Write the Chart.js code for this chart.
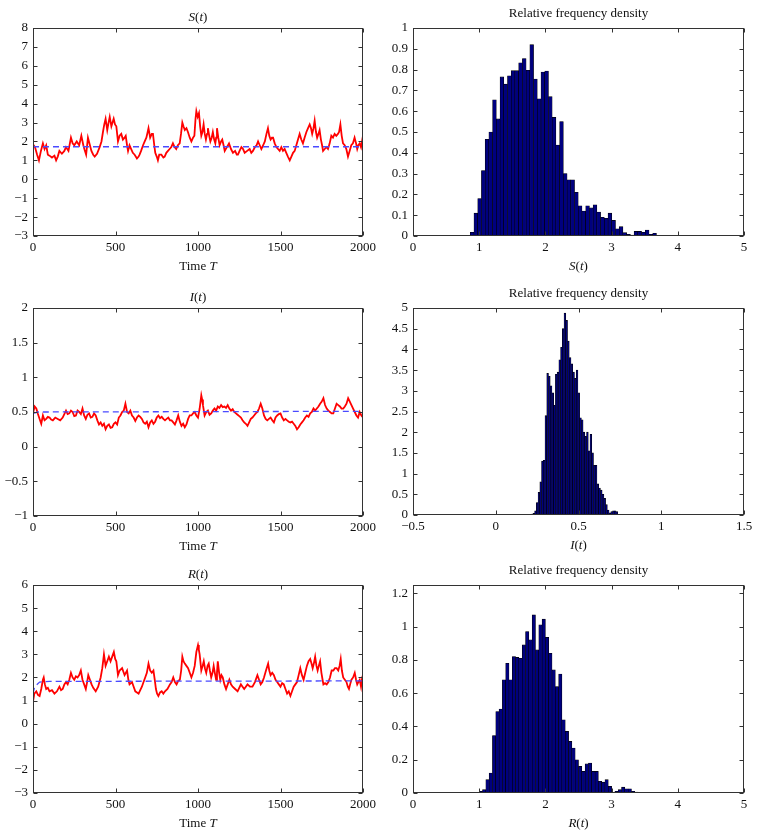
<!DOCTYPE html>
<html><head><meta charset="utf-8">
<script src="https://cdn.jsdelivr.net/npm/chart.js@4.4.0/dist/chart.umd.min.js"></script>
<style>
html,body{margin:0;padding:0;background:#fff;}
#wrap{position:relative;width:760px;height:838px;overflow:hidden;}
canvas{position:absolute;}
</style></head>
<body><div id="wrap">
<canvas id="c1" width="380" height="280" style="left:0;top:0"></canvas>
<canvas id="c2" width="380" height="280" style="left:380px;top:0"></canvas>
<canvas id="c3" width="380" height="280" style="left:0;top:280px"></canvas>
<canvas id="c4" width="380" height="280" style="left:380px;top:280px"></canvas>
<canvas id="c5" width="380" height="278" style="left:0;top:560px"></canvas>
<canvas id="c6" width="380" height="278" style="left:380px;top:560px"></canvas>
</div>
<script>
// ---------- DATA ----------
const timeTicks = [0, 500, 1000, 1500, 2000];
const sYTicks = [-3,-2,-1,0,1,2,3,4,5,6,7,8];
const iYTicks = [-1,-0.5,0,0.5,1,1.5,2];
const rYTicks = [-3,-2,-1,0,1,2,3,4,5,6];
const sHistXTicks = [0,1,2,3,4,5];
const iHistXTicks = [-0.5,0,0.5,1,1.5];
const rHistXTicks = [0,1,2,3,4,5];
const sHistYTicks = [0,0.1,0.2,0.3,0.4,0.5,0.6,0.7,0.8,0.9,1];
const iHistYTicks = [0,0.5,1,1.5,2,2.5,3,3.5,4,4.5,5];
const rHistYTicks = [0,0.2,0.4,0.6,0.8,1,1.2];

// S(t) sample path [time, value]
const sSeries = [[0,1.85],[12,1.7],[25,1.3],[36,1.0],[48,1.5],[60,1.9],[70,1.6],[80,1.8],[90,1.3],[100,1.25],[115,1.15],[130,1.25],[140,1.0],[150,1.2],[160,1.5],[175,1.35],[190,1.5],[200,1.7],[215,1.5],[230,2.2],[240,1.9],[250,1.8],[265,2.0],[280,1.8],[293,2.3],[305,1.8],[313,1.55],[322,1.3],[333,2.2],[345,1.8],[354,1.5],[365,1.3],[374,1.2],[388,1.35],[404,1.7],[415,2.0],[424,2.5],[432,2.9],[440,3.2],[450,2.6],[458,3.0],[465,3.3],[475,2.8],[482,3.0],[489,3.2],[497,2.9],[505,2.8],[515,2.0],[525,2.3],[535,2.4],[545,2.1],[555,2.2],[562,2.3],[570,1.8],[576,1.5],[585,1.8],[595,1.6],[605,1.4],[616,1.3],[630,1.1],[640,1.2],[646,1.3],[655,1.5],[667,1.8],[677,2.0],[687,2.2],[695,2.5],[700,2.7],[710,2.2],[720,2.4],[727,2.4],[735,1.8],[741,1.4],[750,1.2],[757,1.0],[765,1.3],[778,1.3],[790,1.15],[798,1.2],[808,1.4],[818,1.5],[828,1.6],[838,1.7],[848,1.9],[858,1.7],[868,1.6],[878,1.8],[889,1.9],[897,2.4],[905,3.0],[912,2.8],[920,2.6],[930,2.7],[939,2.5],[950,2.2],[960,2.0],[970,2.2],[978,2.3],[985,3.2],[990,3.6],[998,3.3],[1006,3.5],[1013,2.8],[1020,2.3],[1027,2.5],[1034,2.9],[1041,2.4],[1048,2.1],[1055,2.4],[1060,2.7],[1068,2.3],[1075,2.0],[1083,2.2],[1090,2.5],[1098,2.1],[1105,1.9],[1110,2.2],[1115,2.7],[1123,2.2],[1131,1.8],[1140,2.0],[1147,2.1],[1155,1.8],[1162,1.5],[1175,1.7],[1188,1.9],[1200,1.6],[1212,1.4],[1225,1.5],[1235,1.3],[1242,1.3],[1252,1.5],[1263,1.7],[1273,1.6],[1283,1.4],[1298,1.5],[1313,1.6],[1323,1.4],[1333,1.5],[1345,1.7],[1355,1.8],[1364,2.0],[1374,1.8],[1384,1.6],[1395,1.8],[1405,2.0],[1415,2.4],[1424,2.7],[1432,2.3],[1440,2.1],[1448,2.2],[1455,2.2],[1465,1.9],[1475,1.7],[1485,1.6],[1495,1.5],[1505,1.7],[1515,1.5],[1525,1.6],[1535,1.4],[1545,1.2],[1556,1.0],[1566,1.2],[1576,1.4],[1586,1.5],[1596,1.8],[1606,2.1],[1616,2.4],[1626,2.1],[1636,1.9],[1646,2.2],[1657,2.5],[1667,2.7],[1677,2.9],[1685,2.7],[1692,2.4],[1700,2.7],[1707,3.1],[1715,2.5],[1722,2.2],[1730,2.4],[1737,2.6],[1745,2.1],[1752,1.8],[1758,1.5],[1768,1.6],[1778,1.7],[1788,1.6],[1798,1.9],[1808,2.3],[1818,2.2],[1828,2.4],[1838,2.3],[1848,2.4],[1855,2.5],[1863,2.9],[1871,2.3],[1879,1.9],[1889,1.8],[1899,1.6],[1909,1.2],[1919,1.5],[1929,1.8],[1939,1.9],[1949,2.2],[1958,1.9],[1965,1.6],[1972,1.8],[1980,1.9],[1988,1.7],[1996,2.1],[2000,1.8]];
const sMean = [[0,1.72],[2000,1.72]];

// I(t) sample path
const iSeries = [[0,0.48],[10,0.58],[20,0.55],[30,0.47],[40,0.40],[50,0.33],[60,0.45],[70,0.38],[80,0.40],[90,0.43],[100,0.42],[110,0.39],[120,0.38],[135,0.42],[150,0.40],[165,0.38],[180,0.42],[200,0.52],[210,0.47],[220,0.48],[230,0.52],[240,0.50],[250,0.44],[260,0.45],[270,0.52],[280,0.50],[290,0.47],[300,0.55],[310,0.45],[320,0.40],[330,0.46],[340,0.48],[350,0.42],[360,0.43],[370,0.48],[380,0.45],[390,0.38],[400,0.32],[410,0.35],[420,0.30],[430,0.33],[440,0.25],[450,0.30],[460,0.32],[470,0.27],[480,0.28],[490,0.33],[500,0.35],[510,0.32],[520,0.42],[530,0.45],[540,0.50],[550,0.52],[560,0.62],[570,0.50],[580,0.48],[590,0.52],[600,0.45],[610,0.42],[620,0.37],[630,0.42],[640,0.45],[650,0.43],[660,0.40],[670,0.35],[680,0.33],[690,0.36],[700,0.28],[710,0.35],[720,0.38],[730,0.33],[740,0.36],[750,0.42],[760,0.45],[770,0.41],[780,0.43],[790,0.40],[800,0.38],[810,0.40],[820,0.42],[830,0.38],[840,0.38],[850,0.35],[860,0.32],[870,0.38],[880,0.45],[890,0.36],[900,0.30],[910,0.33],[920,0.28],[930,0.32],[940,0.40],[950,0.45],[960,0.45],[970,0.48],[980,0.50],[990,0.45],[1000,0.42],[1010,0.55],[1020,0.74],[1025,0.68],[1030,0.60],[1040,0.45],[1050,0.50],[1060,0.52],[1070,0.46],[1080,0.48],[1090,0.52],[1100,0.55],[1110,0.52],[1120,0.58],[1130,0.56],[1140,0.60],[1150,0.57],[1160,0.58],[1170,0.56],[1180,0.60],[1190,0.55],[1200,0.52],[1210,0.54],[1220,0.50],[1230,0.48],[1240,0.46],[1250,0.44],[1260,0.42],[1270,0.38],[1280,0.35],[1290,0.33],[1300,0.30],[1310,0.35],[1320,0.40],[1330,0.42],[1340,0.45],[1350,0.48],[1360,0.50],[1370,0.55],[1380,0.62],[1390,0.55],[1400,0.45],[1410,0.40],[1420,0.38],[1430,0.40],[1440,0.42],[1450,0.38],[1460,0.35],[1470,0.42],[1480,0.45],[1490,0.47],[1500,0.48],[1510,0.42],[1520,0.38],[1530,0.40],[1540,0.38],[1550,0.36],[1560,0.35],[1570,0.36],[1580,0.33],[1590,0.30],[1600,0.25],[1610,0.28],[1620,0.32],[1630,0.35],[1640,0.38],[1650,0.42],[1660,0.45],[1670,0.43],[1680,0.48],[1690,0.50],[1700,0.55],[1710,0.52],[1720,0.55],[1730,0.58],[1740,0.62],[1750,0.65],[1760,0.70],[1770,0.60],[1780,0.55],[1790,0.52],[1800,0.50],[1810,0.48],[1820,0.48],[1830,0.55],[1840,0.62],[1850,0.60],[1860,0.58],[1870,0.55],[1880,0.55],[1890,0.58],[1900,0.62],[1910,0.70],[1920,0.65],[1930,0.60],[1940,0.55],[1950,0.50],[1960,0.45],[1970,0.42],[1980,0.50],[1990,0.45],[2000,0.42]];
const iMean = [[0,0.48],[30,0.50],[2000,0.51]];

// R(t) sample path
const rSeries = [[0,0.95],[8,1.3],[20,1.4],[30,1.25],[40,1.2],[50,1.5],[60,1.9],[65,2.0],[72,1.7],[80,1.5],[90,1.55],[100,1.4],[115,1.45],[130,1.3],[145,1.4],[160,1.6],[170,1.45],[180,1.5],[190,1.7],[200,1.8],[210,1.7],[220,1.9],[230,2.2],[240,2.0],[250,1.9],[260,2.05],[270,2.0],[280,2.1],[290,2.3],[300,1.9],[310,1.7],[320,1.5],[328,1.8],[335,2.1],[345,1.9],[355,1.7],[365,1.55],[380,1.4],[395,1.6],[410,2.0],[420,2.4],[430,3.0],[440,2.5],[450,2.7],[460,2.9],[470,2.7],[480,2.9],[490,3.1],[498,2.8],[505,2.7],[515,2.1],[525,2.3],[540,2.4],[550,2.2],[555,2.1],[570,2.3],[578,1.9],[585,1.7],[600,1.8],[610,1.6],[620,1.4],[630,1.35],[640,1.3],[650,1.45],[660,1.6],[670,1.8],[680,2.0],[690,2.2],[700,2.6],[710,2.3],[720,2.2],[730,2.3],[738,1.9],[745,1.5],[752,1.3],[760,1.2],[770,1.35],[780,1.4],[790,1.3],[800,1.4],[815,1.5],[830,1.7],[840,1.8],[850,2.0],[860,1.8],[870,1.7],[880,1.85],[890,1.9],[898,2.3],[905,2.9],[912,2.7],[920,2.6],[930,2.5],[940,2.4],[950,2.2],[960,2.0],[970,2.2],[980,2.5],[990,3.1],[1000,3.4],[1005,3.2],[1010,3.0],[1020,2.3],[1028,2.5],[1035,2.7],[1042,2.4],[1050,2.2],[1058,2.5],[1065,2.6],[1072,2.3],[1080,2.0],[1088,2.2],[1095,2.5],[1102,2.2],[1110,1.9],[1115,2.2],[1120,2.7],[1128,2.2],[1135,1.9],[1142,2.1],[1150,2.0],[1160,1.7],[1170,1.5],[1180,1.7],[1190,1.9],[1200,1.7],[1210,1.6],[1225,1.5],[1240,1.4],[1250,1.55],[1260,1.7],[1270,1.6],[1280,1.5],[1290,1.6],[1300,1.7],[1315,1.6],[1330,1.6],[1345,1.8],[1360,2.1],[1370,1.9],[1380,1.7],[1390,1.8],[1400,2.0],[1412,2.3],[1425,2.6],[1432,2.3],[1440,2.1],[1450,2.2],[1460,2.1],[1470,1.9],[1480,1.8],[1490,1.7],[1500,1.6],[1510,1.75],[1520,1.7],[1530,1.5],[1540,1.3],[1550,1.4],[1560,1.2],[1570,1.4],[1580,1.6],[1590,1.7],[1600,1.8],[1610,2.1],[1620,2.4],[1630,2.1],[1640,1.9],[1650,2.2],[1660,2.5],[1670,2.7],[1680,2.8],[1688,2.6],[1695,2.4],[1702,2.6],[1710,2.9],[1718,2.5],[1725,2.3],[1732,2.5],[1740,2.7],[1748,2.2],[1755,1.9],[1760,1.7],[1770,1.75],[1780,1.7],[1790,1.8],[1800,2.0],[1810,2.3],[1820,2.3],[1830,2.4],[1840,2.4],[1850,2.3],[1858,2.5],[1865,2.8],[1872,2.3],[1880,2.0],[1890,1.9],[1900,1.8],[1908,1.6],[1915,1.5],[1922,1.7],[1930,1.9],[1940,2.0],[1950,2.2],[1958,1.9],[1965,1.7],[1972,1.8],[1980,1.9],[1988,1.6],[1995,2.0],[2000,2.1]];
const rMean = [[0,1.3],[10,1.6],[40,1.8],[100,1.83],[2000,1.85]];

// Histograms: relative frequency density per bin
const sBinStart = 0.865, sBinWidth = 0.05625;
const sDensity = [0.018,0.11,0.18,0.315,0.465,0.50,0.655,0.563,0.765,0.73,0.77,0.795,0.795,0.833,0.853,0.797,0.92,0.755,0.66,0.788,0.793,0.67,0.57,0.437,0.55,0.30,0.27,0.27,0.21,0.145,0.12,0.145,0.135,0.15,0.115,0.09,0.085,0.11,0.075,0.035,0.045,0.016,0.008,0.005,0.022,0.022,0.018,0.029,0.008,0.013];
const iBinStart = 0.214, iBinWidth = 0.01046;
const iDensity = [0.02,0.04,0.1,0.3,0.55,0.8,1.3,1.32,2.4,3.42,3.35,3.12,2.95,2.65,3.4,3.45,3.75,4.05,4.5,4.88,4.7,4.2,3.8,3.65,3.45,3.3,3.5,2.95,2.35,2.3,2.0,1.9,2.0,1.55,1.95,1.5,1.2,1.2,0.75,0.65,0.6,0.5,0.4,0.25,0.12,0.05,0.08,0.1,0.1,0.08];
const rBinStart = 1.0, rBinWidth = 0.05;
const rDensity = [0.01,0.02,0.08,0.12,0.345,0.49,0.505,0.68,0.78,0.68,0.82,0.815,0.81,0.89,0.97,0.92,1.07,0.86,1.01,1.045,0.935,0.84,0.74,0.64,0.715,0.44,0.37,0.31,0.27,0.2,0.16,0.13,0.175,0.18,0.13,0.13,0.07,0.065,0.08,0.04,0.0,0.01,0.02,0.035,0.025,0.025,0.01,0.005];

// ---------- RENDERING ----------
const FONT = '"Liberation Serif", "Times New Roman", serif';
const fmt = v => String(Number(v.toFixed(3))).replace('-', '\u2212');

const framePlugin = {
  id: 'frame',
  afterDraw(chart, args, opts) {
    const {ctx, chartArea: a} = chart;
    const x = chart.scales.x, y = chart.scales.y;
    ctx.save();
    ctx.strokeStyle = '#333';
    ctx.lineWidth = 1;
    const L = Math.round(a.left) + 0.5, R = Math.round(a.right) - 0.5;
    const T = Math.round(a.top) + 0.5, B = Math.round(a.bottom) - 0.5;
    ctx.strokeRect(L, T, R - L, B - T);
    const tl = 4;
    ctx.beginPath();
    x.ticks.forEach(t => {
      const px = Math.round(x.getPixelForValue(t.value)) + 0.5;
      ctx.moveTo(px, B); ctx.lineTo(px, B - tl);
      ctx.moveTo(px, T); ctx.lineTo(px, T + tl);
    });
    y.ticks.forEach(t => {
      const py = Math.round(y.getPixelForValue(t.value)) + 0.5;
      ctx.moveTo(L, py); ctx.lineTo(L + tl, py);
      ctx.moveTo(R, py); ctx.lineTo(R - tl, py);
    });
    ctx.stroke();
    // rich text labels
    const cx = (a.left + a.right) / 2;
    const drawRich = (segs, cy) => {
      ctx.fillStyle = '#111';
      ctx.textBaseline = 'middle';
      ctx.textAlign = 'left';
      let w = 0;
      segs.forEach(s => { ctx.font = (s[1] ? 'italic ' : '') + '13px ' + FONT; w += ctx.measureText(s[0]).width; });
      let xx = cx - w / 2;
      segs.forEach(s => { ctx.font = (s[1] ? 'italic ' : '') + '13px ' + FONT; ctx.fillText(s[0], xx, cy); xx += ctx.measureText(s[0]).width; });
    };
    if (opts.top) drawRich(opts.top, a.top - opts.topOff);
    if (opts.bottom) drawRich(opts.bottom, a.bottom + opts.bottomOff);
    ctx.restore();
  }
};

function axis(min, max, ticks, fitW, fitH) {
  return {
    type: 'linear', min, max, offset: false,
    grid: {display: false, drawTicks: false},
    border: {display: false},
    afterBuildTicks: s => { s.ticks = ticks.map(v => ({value: v})); },
    afterFit: s => { if (fitW !== undefined) s.width = fitW; if (fitH !== undefined) s.height = fitH; },
    ticks: {
      autoSkip: false, maxRotation: 0, color: '#111',
      padding: fitW !== undefined ? 5 : 4,
      font: {family: FONT, size: 13},
      callback: v => fmt(v)
    }
  };
}

function tsChart(id, series, mean, yMin, yMax, yTicks, topPad, xH, title) {
  new Chart(document.getElementById(id), {
    type: 'line',
    data: {datasets: [
      {data: mean.map(p => ({x: p[0], y: p[1]})), borderColor: '#4a4aff', borderWidth: 1.3, borderDash: [6, 4], pointRadius: 0, tension: 0, fill: false},
      {data: series.map(p => ({x: p[0], y: p[1]})), borderColor: '#ff0000', borderWidth: 1.8, pointRadius: 0, tension: 0, fill: false}
    ]},
    options: {
      responsive: false, animation: false, devicePixelRatio: 1,
      layout: {padding: {left: 0, right: 17, top: topPad, bottom: 0}},
      plugins: {legend: {display: false}, tooltip: {enabled: false},
        frame: {top: title, topOff: 10, bottom: [['Time ', false], ['T', true]], bottomOff: 31}},
      scales: {x: axis(0, 2000, timeTicks, undefined, xH), y: axis(yMin, yMax, yTicks, 33, undefined)}
    },
    plugins: [framePlugin]
  });
}

function histChart(id, start, width, dens, xMin, xMax, xTicks, yMax, yTicks, topPad, xH, label) {
  new Chart(document.getElementById(id), {
    type: 'bar',
    data: {datasets: [{
      data: dens.map((v, k) => ({x: start + width * (k + 0.5), y: v})),
      backgroundColor: '#00007f', borderColor: '#000', borderWidth: 0.6,
      barPercentage: 1, categoryPercentage: 1
    }]},
    options: {
      responsive: false, animation: false, devicePixelRatio: 1,
      layout: {padding: {left: 0, right: 16, top: topPad, bottom: 0}},
      plugins: {legend: {display: false}, tooltip: {enabled: false},
        frame: {top: [['Relative frequency density', false]], topOff: 14, bottom: label, bottomOff: 31}},
      scales: {x: axis(xMin, xMax, xTicks, undefined, xH), y: axis(0, yMax, yTicks, 33, undefined)}
    },
    plugins: [framePlugin]
  });
}

tsChart('c1', sSeries, sMean, -3, 8, sYTicks, 28, 44, [['S', true], ['(', false], ['t', true], [')', false]]);
histChart('c2', sBinStart, sBinWidth, sDensity, 0, 5, sHistXTicks, 1, sHistYTicks, 28, 44, [['S', true], ['(', false], ['t', true], [')', false]]);
tsChart('c3', iSeries, iMean, -1, 2, iYTicks, 28, 44, [['I', true], ['(', false], ['t', true], [')', false]]);
histChart('c4', iBinStart, iBinWidth, iDensity, -0.5, 1.5, iHistXTicks, 5, iHistYTicks, 28, 45, [['I', true], ['(', false], ['t', true], [')', false]]);
tsChart('c5', rSeries, rMean, -3, 6, rYTicks, 25, 45, [['R', true], ['(', false], ['t', true], [')', false]]);
histChart('c6', rBinStart, rBinWidth, rDensity, 0, 5, rHistXTicks, 1.25, rHistYTicks, 25, 45, [['R', true], ['(', false], ['t', true], [')', false]]);
</script>
</body></html>
